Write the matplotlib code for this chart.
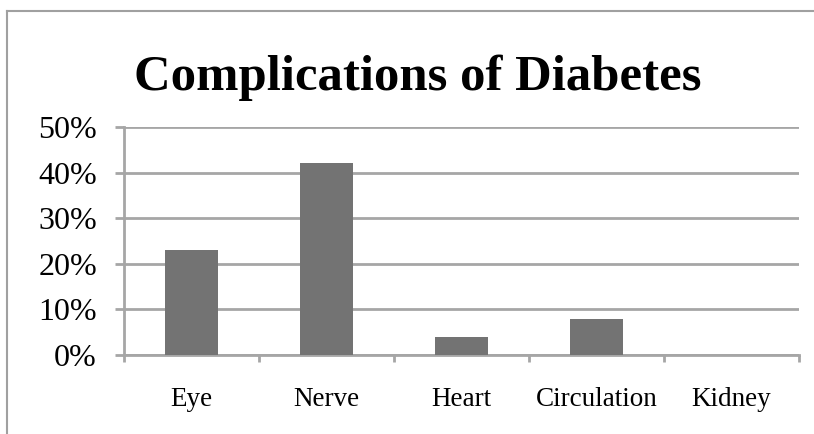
import matplotlib
matplotlib.use("Agg")
import matplotlib.pyplot as plt
from matplotlib.lines import Line2D
from matplotlib.ticker import FixedLocator

categories = ["Eye", "Nerve", "Heart", "Circulation", "Kidney"]
values = [0.23, 0.42, 0.04, 0.08, 0.0]
yticks = [0.0, 0.1, 0.2, 0.3, 0.4, 0.5]
ytick_labels = ["0%", "10%", "20%", "30%", "40%", "50%"]
title = "Complications of Diabetes"

W, H = 814, 434
fig = plt.figure(figsize=(W / 100, H / 100), dpi=100)
fig.patch.set_facecolor("white")

# outer chart frame (gray)
frame_col = "#A0A0A0"
fig.add_artist(Line2D([7 / W, 1.01], [1 - 11 / H, 1 - 11 / H], color=frame_col, lw=1.5, transform=fig.transFigure))
fig.add_artist(Line2D([7 / W, 7 / W], [1 - 11 / H, -0.01], color=frame_col, lw=1.5, transform=fig.transFigure))

left, right, top, bottom = 124, 799, 127, 355
ax = fig.add_axes([left / W, (H - bottom) / H, (right - left) / W, (bottom - top) / H])

x = list(range(len(categories)))
ax.bar(x, values, width=0.39, color="#737373", zorder=3)

ax.set_xlim(-0.5, len(categories) - 0.5)
ax.set_ylim(0, 0.5)

grid_col = "#A6A6A6"
ax.set_yticks(yticks)
ax.set_yticklabels(ytick_labels, fontfamily="Liberation Serif", fontsize=23)
ax.yaxis.grid(True, color=grid_col, lw=2, zorder=0)
ax.tick_params(axis="y", length=6.5, width=2, color=grid_col, pad=13)

ax.set_xticks(x)
ax.set_xticklabels(categories, fontfamily="Liberation Serif", fontsize=19.5)
ax.xaxis.set_minor_locator(FixedLocator([i - 0.5 for i in range(len(categories) + 1)]))
ax.tick_params(axis="x", which="major", length=0, pad=23)
ax.tick_params(axis="x", which="minor", length=5, width=2, color=grid_col)

for s in ["top", "right"]:
    ax.spines[s].set_visible(False)
ax.spines["left"].set_color(grid_col)
ax.spines["left"].set_linewidth(2)
ax.spines["bottom"].set_color(grid_col)
ax.spines["bottom"].set_linewidth(2)

fig.text(418 / W, 1 - 78 / H, title, ha="center", va="center",
         fontfamily="Liberation Serif", fontweight="bold", fontsize=36.5)

fig.savefig("out.png", dpi=100)
